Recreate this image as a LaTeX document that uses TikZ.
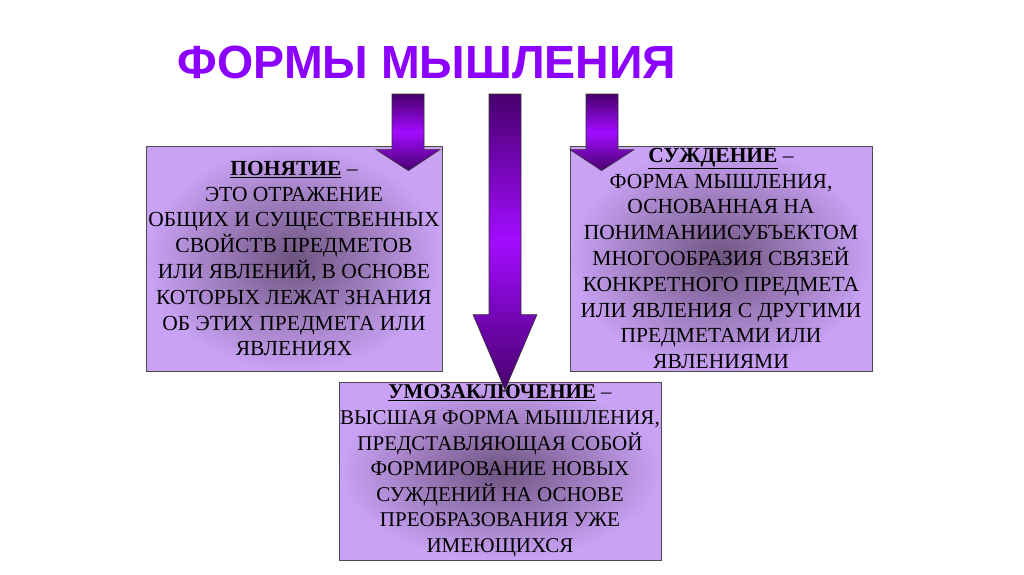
\documentclass[tikz,border=0pt]{standalone}
\usepackage{fontspec}
\setmainfont{Liberation Serif}
\newfontfamily\headfont{Liberation Sans}
\usetikzlibrary{positioning,calc}

\definecolor{titleviolet}{HTML}{8C00FF}
\definecolor{boxlight}{HTML}{C9A2F5}
\definecolor{boxdark}{HTML}{6E5480}
\definecolor{arrowdark}{HTML}{48006E}
\definecolor{arrowbright}{HTML}{A20CFF}

\tikzset{
  formbox/.style={draw=black!70, line width=0.8pt, inner color=boxdark, outer color=boxlight,
    minimum width=#1, align=center, inner sep=0pt,
    font=\fontsize{21.5}{25.8}\selectfont},
  formarrow/.style={draw=black!80, line width=0.6pt, top color=arrowdark,
    bottom color=arrowdark, middle color=arrowbright}
}

% block arrow: #1 top point, #2 tip, #3 head length
\newcommand{\formsarrow}[3]{%
  \path[formarrow] let \p1=(#1), \p2=(#2) in
    (\x1-16pt,\y1) -- (\x1+16pt,\y1) -- (\x1+16pt,\y2+#3pt) -- (\x1+32pt,\y2+#3pt)
    -- (\x2,\y2) -- (\x1-32pt,\y2+#3pt) -- (\x1-16pt,\y2+#3pt) -- cycle;
}

\begin{document}
\begin{tikzpicture}[x=1pt,y=-1pt]
  \useasboundingbox[fill=white] (0,0) rectangle (1024,574);

  \node[font=\headfont\bfseries\fontsize{46.5}{56}\selectfont, text=titleviolet] (title) at (427,62) {ФОРМЫ МЫШЛЕНИЯ};

  % the three forms
  \node[formbox=296, minimum height=225] (concept) at (294,258.5) {%
    \underline{\textbf{ПОНЯТИЕ}} –\\
    ЭТО ОТРАЖЕНИЕ\\
    ОБЩИХ И СУЩЕСТВЕННЫХ\\
    СВОЙСТВ ПРЕДМЕТОВ\\
    ИЛИ ЯВЛЕНИЙ, В ОСНОВЕ\\
    КОТОРЫХ ЛЕЖАТ ЗНАНИЯ\\
    ОБ ЭТИХ ПРЕДМЕТА ИЛИ\\
    ЯВЛЕНИЯХ};
  \node[formbox=302, minimum height=225] (judgement) at (721,258.5) {%
    \underline{\textbf{СУЖДЕНИЕ}} –\\
    ФОРМА МЫШЛЕНИЯ,\\
    ОСНОВАННАЯ НА\\
    ПОНИМАНИИСУБЪЕКТОМ\\
    МНОГООБРАЗИЯ СВЯЗЕЙ\\
    КОНКРЕТНОГО ПРЕДМЕТА\\
    ИЛИ ЯВЛЕНИЯ С ДРУГИМИ\\
    ПРЕДМЕТАМИ ИЛИ\\
    ЯВЛЕНИЯМИ};
  \node[formbox=322, minimum height=178, font=\fontsize{21}{25.6}\selectfont] (inference) at (500,471) {%
    \underline{\textbf{УМОЗАКЛЮЧЕНИЕ}} –\\
    ВЫСШАЯ ФОРМА МЫШЛЕНИЯ,\\
    ПРЕДСТАВЛЯЮЩАЯ СОБОЙ\\
    ФОРМИРОВАНИЕ НОВЫХ\\
    СУЖДЕНИЙ НА ОСНОВЕ\\
    ПРЕОБРАЗОВАНИЯ УЖЕ\\
    ИМЕЮЩИХСЯ};

  % arrows from the title
  \coordinate (ltop) at (408,94);
  \coordinate (ctop) at (505,94);
  \coordinate (rtop) at (602,94);
  \coordinate (ltip) at ($(concept.north east)+(-34,25)$);
  \coordinate (rtip) at ($(judgement.north west)+(32,25)$);
  \coordinate (ctip) at ($(inference.north)+(5,8)$);
  \formsarrow{ltop}{ltip}{21}
  \formsarrow{rtop}{rtip}{21}
  \formsarrow{ctop}{ctip}{75}
\end{tikzpicture}
\end{document}
